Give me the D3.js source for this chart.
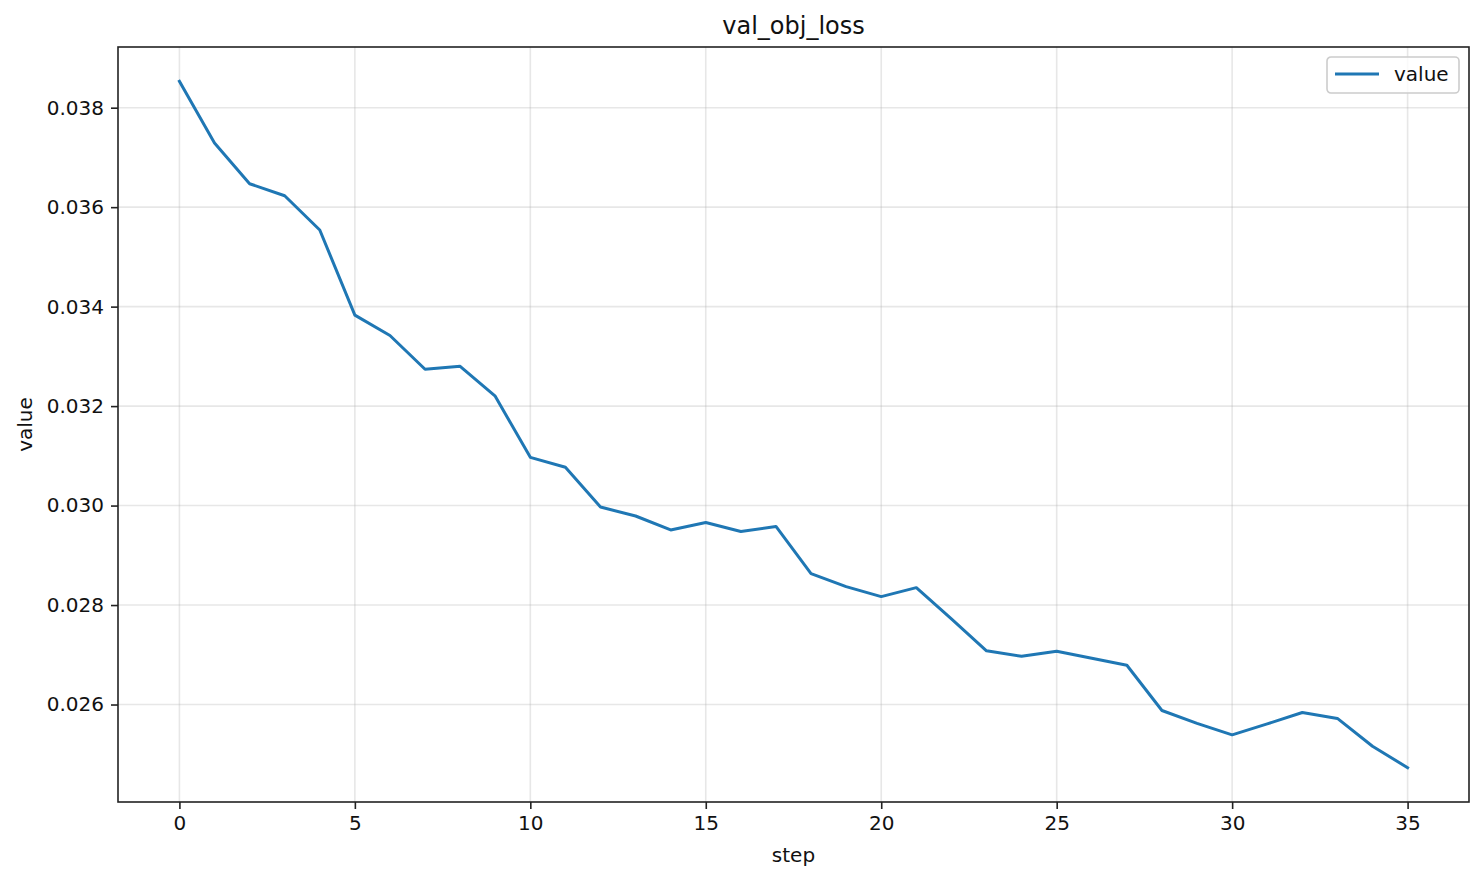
<!DOCTYPE html>
<html>
<head>
<meta charset="utf-8">
<script src="https://cdn.jsdelivr.net/npm/d3@7"></script>
<style>
  body { margin: 0; background: #fff; }
  svg { font-family: "DejaVu Sans", sans-serif; }
</style>
</head>
<body>
<svg id="chart" width="1484" height="881"></svg>
<script>
// steps on the x axis
var steps = d3.range(0, 36);

// validation loss per step
var values = [0.03853, 0.03729, 0.03647, 0.03623, 0.03554, 0.03383, 0.03342, 0.03274,
              0.03280, 0.03220, 0.03097, 0.03077, 0.02997, 0.02979, 0.02951, 0.02966,
              0.02948, 0.02958, 0.02863, 0.02837, 0.02817, 0.02835, 0.02772, 0.02708,
              0.02697, 0.02707, 0.02693, 0.02679, 0.02588, 0.02562, 0.02539, 0.02561,
              0.02584, 0.02572, 0.02516, 0.02473];

var xTicks = [0, 5, 10, 15, 20, 25, 30, 35];
var yTicks = [0.026, 0.028, 0.030, 0.032, 0.034, 0.036, 0.038];

var margin = {left: 118, right: 15, top: 47, bottom: 79};
var svg = d3.select("#chart");
var width = 1484 - margin.left - margin.right;
var height = 881 - margin.top - margin.bottom;

var g = svg.append("g")
  .attr("transform", "translate(" + margin.left + "," + margin.top + ")");

// matplotlib style 5% padding
var ymin = d3.min(values), ymax = d3.max(values);
var pad = (ymax - ymin) * 0.05;
var x = d3.scaleLinear().domain([-1.75, 36.75]).range([0, width]);
var y = d3.scaleLinear().domain([ymin - pad, ymax + pad]).range([height, 0]);

// grid
g.append("g").selectAll("line")
  .data(xTicks).enter().append("line")
  .attr("x1", function(d) { return x(d); })
  .attr("x2", function(d) { return x(d); })
  .attr("y1", 0).attr("y2", height)
  .attr("stroke", "#b0b0b0").attr("stroke-opacity", 0.3).attr("stroke-width", 1.6);

g.append("g").selectAll("line")
  .data(yTicks).enter().append("line")
  .attr("y1", function(d) { return y(d); })
  .attr("y2", function(d) { return y(d); })
  .attr("x1", 0).attr("x2", width)
  .attr("stroke", "#b0b0b0").attr("stroke-opacity", 0.3).attr("stroke-width", 1.6);

// line
var line = d3.line()
  .x(function(d, i) { return x(steps[i]); })
  .y(function(d) { return y(d); });

g.append("path")
  .datum(values)
  .attr("d", line)
  .attr("fill", "none")
  .attr("stroke", "#1f77b4")
  .attr("stroke-width", 3)
  .attr("stroke-linejoin", "round")
  .attr("stroke-linecap", "square");

// axes
var xAxis = g.append("g")
  .attr("transform", "translate(0," + height + ")")
  .call(d3.axisBottom(x).tickValues(xTicks).tickSize(7).tickPadding(7).tickFormat(d3.format("d")));

var yAxis = g.append("g")
  .call(d3.axisLeft(y).tickValues(yTicks).tickSize(7).tickPadding(7).tickFormat(d3.format(".3f")));

[xAxis, yAxis].forEach(function(a) {
  a.select(".domain").remove();
  a.selectAll(".tick line").attr("stroke", "#222").attr("stroke-width", 1.6);
  a.selectAll(".tick text").attr("fill", "#111").style("font-size", "20px")
    .style("font-family", "DejaVu Sans, sans-serif");
});

// frame
g.append("rect")
  .attr("width", width).attr("height", height)
  .attr("fill", "none").attr("stroke", "#222").attr("stroke-width", 1.6);

// title and labels
svg.append("text")
  .attr("x", margin.left + width / 2).attr("y", 34)
  .attr("text-anchor", "middle")
  .style("font-size", "24px").attr("fill", "#111")
  .text("val_obj_loss");

svg.append("text")
  .attr("x", margin.left + width / 2).attr("y", 862)
  .attr("text-anchor", "middle")
  .style("font-size", "20px").attr("fill", "#111")
  .text("step");

svg.append("text")
  .attr("transform", "translate(32," + (margin.top + height / 2) + ") rotate(-90)")
  .attr("text-anchor", "middle")
  .style("font-size", "20px").attr("fill", "#111")
  .text("value");

// legend
var legend = g.append("g")
  .attr("transform", "translate(" + (width - 142) + ",10)");

legend.append("rect")
  .attr("width", 132).attr("height", 36).attr("rx", 4)
  .attr("fill", "#fff").attr("fill-opacity", 0.8)
  .attr("stroke", "#cccccc").attr("stroke-width", 1.6);

legend.append("line")
  .attr("x1", 8).attr("x2", 52).attr("y1", 17).attr("y2", 17)
  .attr("stroke", "#1f77b4").attr("stroke-width", 3);

legend.append("text")
  .attr("x", 67).attr("y", 24)
  .style("font-size", "20px").attr("fill", "#111")
  .text("value");
</script>
</body>
</html>
